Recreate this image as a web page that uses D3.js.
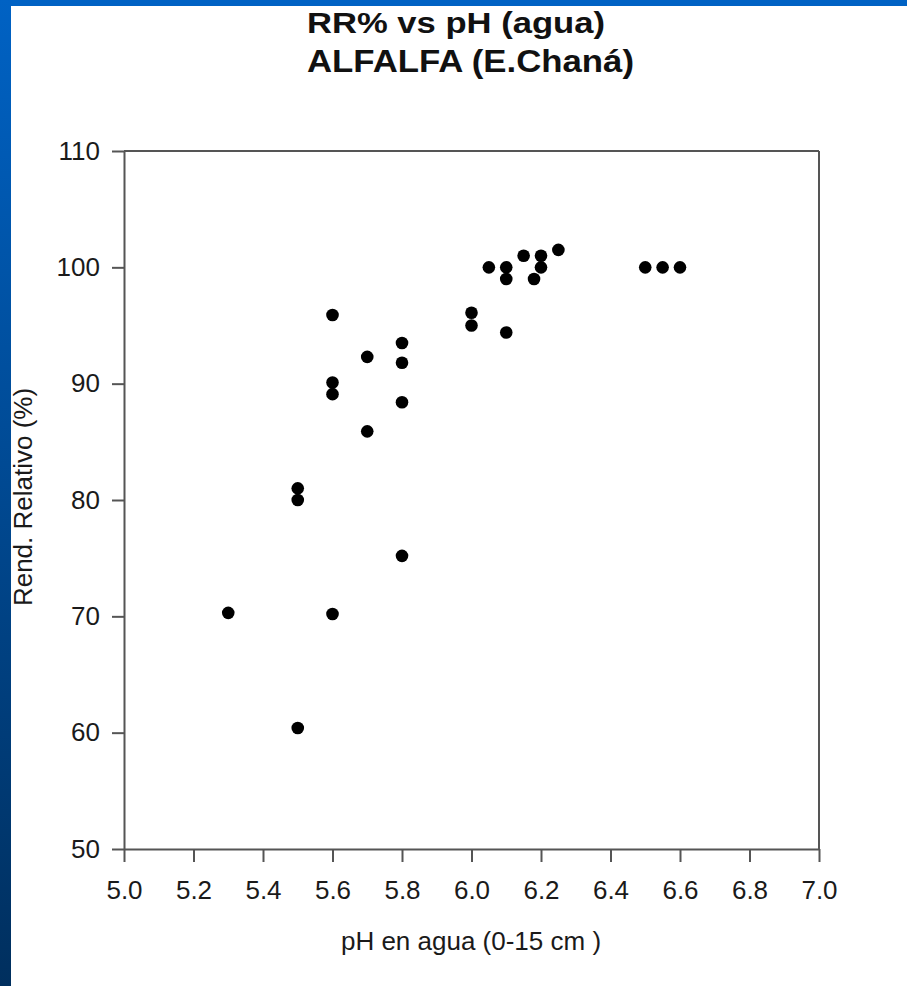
<!DOCTYPE html>
<html lang="es">
<head>
  <meta charset="UTF-8">
  <title>RR% vs pH</title>
  <style>
    body { margin: 0; background: #fff; }
    text { font-family: "Liberation Sans", Arial, sans-serif; fill: #1a1a1a; }
  </style>
</head>
<body>
  <svg id="svg" width="907" height="986"></svg>
  <script src="https://d3js.org/d3.v7.min.js"></script>
  <script>
    // pH en agua (0-15 cm) y rendimiento relativo (%)
    const phValues = [5.3, 5.5, 5.5, 5.5, 5.6, 5.6, 5.6, 5.6, 5.7, 5.7, 5.8, 5.8, 5.8, 5.8,
      6.0, 6.0, 6.05, 6.1, 6.1, 6.1, 6.15, 6.2, 6.2, 6.18, 6.25, 6.5, 6.55, 6.6]
    const rrValues = [70.3, 60.4, 81.0, 80.0, 95.9, 90.1, 89.1, 70.2, 92.3, 85.9, 93.5, 91.8, 88.4, 75.2,
      96.1, 95.0, 100.0, 100.0, 99.0, 94.4, 101.0, 101.0, 100.0, 99.0, 101.5, 100.0, 100.0, 100.0]
    const xTicks = [5.0, 5.2, 5.4, 5.6, 5.8, 6.0, 6.2, 6.4, 6.6, 6.8, 7.0]
    const yTicks = [50, 60, 70, 80, 90, 100, 110]
    const titleLines = ['RR% vs pH (agua)', 'ALFALFA (E.Chaná)']

    const svg = d3.select('#svg')

    // blue slide frame
    const defs = svg.append('defs')
    const grad = defs.append('linearGradient')
      .attr('id', 'side')
      .attr('x1', 0).attr('y1', 0).attr('x2', 0).attr('y2', 1)
    grad.append('stop').attr('offset', '0%').attr('stop-color', '#0062c4')
    grad.append('stop').attr('offset', '100%').attr('stop-color', '#002f5e')
    svg.append('rect').attr('x', 0).attr('y', 0).attr('width', 907).attr('height', 6).attr('fill', '#0062c4')
    svg.append('rect').attr('x', 0).attr('y', 0).attr('width', 11).attr('height', 986).attr('fill', 'url(#side)')

    const xScale = d3.scaleLinear().domain([5, 7]).range([124, 819])
    const yScale = d3.scaleLinear().domain([50, 110]).range([849, 151])

    // title
    svg.append('text')
      .attr('x', 307).attr('y', 33)
      .style('font-size', '30px').style('font-weight', 'bold')
      .attr('textLength', 298).attr('lengthAdjust', 'spacingAndGlyphs')
      .style('fill', '#111')
      .text(titleLines[0])
    svg.append('text')
      .attr('x', 307).attr('y', 72)
      .style('font-size', '31px').style('font-weight', 'bold')
      .attr('textLength', 327).attr('lengthAdjust', 'spacingAndGlyphs')
      .style('fill', '#111')
      .text(titleLines[1])

    // axes
    const bottomAxis = d3.axisBottom(xScale)
      .tickValues(xTicks)
      .tickFormat(d3.format('.1f'))
      .tickSizeInner(13).tickSizeOuter(0).tickPadding(19)
    const leftAxis = d3.axisLeft(yScale)
      .tickValues(yTicks)
      .tickSizeInner(12).tickSizeOuter(0).tickPadding(12)

    const gx = svg.append('g')
      .attr('transform', `translate(0, ${yScale(50)})`)
      .call(bottomAxis)
    const gy = svg.append('g')
      .attr('transform', `translate(${xScale(5)}, 0)`)
      .call(leftAxis)

    ;[gx, gy].forEach(g => {
      g.selectAll('path, line').attr('stroke', '#555').attr('stroke-width', 2)
      g.selectAll('text').style('font-size', '26px').style('font-family', '"Liberation Sans", Arial, sans-serif').attr('fill', '#1a1a1a')
    })

    // top and right frame lines
    svg.append('line')
      .attr('x1', xScale(5)).attr('x2', xScale(7))
      .attr('y1', yScale(110)).attr('y2', yScale(110))
      .attr('stroke', '#555').attr('stroke-width', 2)
    svg.append('line')
      .attr('x1', xScale(7)).attr('x2', xScale(7))
      .attr('y1', yScale(110)).attr('y2', yScale(50))
      .attr('stroke', '#555').attr('stroke-width', 2)

    // axis titles
    svg.append('text')
      .attr('x', 471).attr('y', 950)
      .attr('text-anchor', 'middle')
      .style('font-size', '26px')
      .text('pH en agua (0-15 cm )')
    svg.append('text')
      .attr('transform', 'translate(32, 497) rotate(-90)')
      .attr('text-anchor', 'middle')
      .style('font-size', '26px')
      .text('Rend. Relativo (%)')

    // points
    svg.append('g')
      .selectAll('circle')
      .data(phValues.map((p, i) => ({ ph: p, rr: rrValues[i] })))
      .enter()
      .append('circle')
      .attr('cx', d => xScale(d.ph))
      .attr('cy', d => yScale(d.rr))
      .attr('r', 6.3)
      .attr('fill', '#000')
  </script>
</body>
</html>
